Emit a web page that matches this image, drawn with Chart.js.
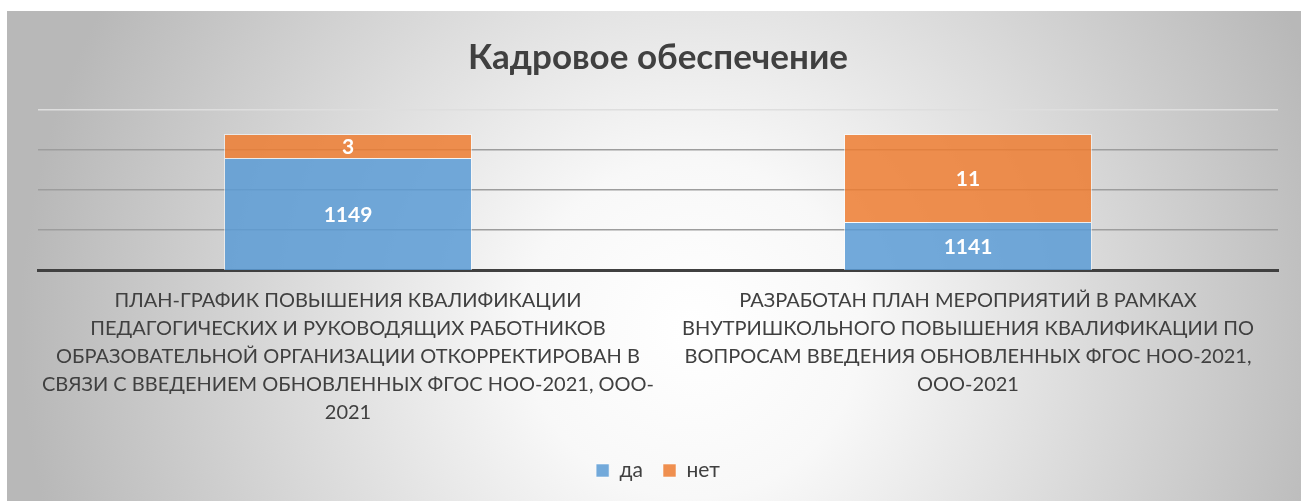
<!DOCTYPE html>
<html>
<head>
<meta charset="utf-8">
<script src="https://cdn.jsdelivr.net/npm/chart.js@4.4.1/dist/chart.umd.min.js"></script>
<style>
  html, body { margin: 0; padding: 0; background: #fff; }
  #wrap { position: absolute; left: 7px; top: 11px; width: 1294px; height: 490px; }
</style>
</head>
<body>
<div id="wrap"><canvas id="chart"></canvas></div>
<script>
const categories = [
  ["ПЛАН-ГРАФИК ПОВЫШЕНИЯ КВАЛИФИКАЦИИ", "ПЕДАГОГИЧЕСКИХ И РУКОВОДЯЩИХ РАБОТНИКОВ",
   "ОБРАЗОВАТЕЛЬНОЙ ОРГАНИЗАЦИИ ОТКОРРЕКТИРОВАН В", "СВЯЗИ С ВВЕДЕНИЕМ ОБНОВЛЕННЫХ ФГОС НОО-2021, ООО-", "2021"],
  ["РАЗРАБОТАН ПЛАН МЕРОПРИЯТИЙ В РАМКАХ", "ВНУТРИШКОЛЬНОГО ПОВЫШЕНИЯ КВАЛИФИКАЦИИ ПО",
   "ВОПРОСАМ ВВЕДЕНИЯ ОБНОВЛЕННЫХ ФГОС НОО-2021,", "ООО-2021"]
]
const yesValues = [1149, 1141]
const noValues = [3, 11]
const axisMin = 1135
const axisMax = 1155

const FONT = "Lato, 'Open Sans', sans-serif"

// soft radial backdrop like the office chart style
const backdrop = {
  id: "backdrop",
  beforeDraw(chart) {
    const { ctx, width, height } = chart
    const g = ctx.createRadialGradient(width * 0.53, height * 0.65, 0, width * 0.53, height * 0.65, width * 0.52)
    g.addColorStop(0, "#ffffff")
    g.addColorStop(0.25, "#f8f8f8")
    g.addColorStop(1, "#b8b8b8")
    ctx.save()
    ctx.fillStyle = g
    ctx.fillRect(0, 0, width, height)
    ctx.restore()
  },
}

// value labels centred in the visible part of each segment
const valueLabels = {
  id: "valueLabels",
  afterDatasetsDraw(chart) {
    const { ctx, chartArea } = chart
    ctx.save()
    ctx.fillStyle = "#ffffff"
    ctx.font = "bold 21px " + FONT
    ctx.textAlign = "center"
    ctx.textBaseline = "middle"
    chart.data.datasets.forEach((ds, i) => {
      chart.getDatasetMeta(i).data.forEach((bar, j) => {
        const top = Math.max(bar.y, chartArea.top)
        const bottom = Math.min(bar.base, chartArea.bottom)
        ctx.fillText(String(ds.data[j]), bar.x, (top + bottom) / 2 + 1)
      })
    })
    ctx.restore()
  },
}

new Chart(document.getElementById("chart"), {
  type: "bar",
  data: {
    labels: categories,
    datasets: [
      {
        label: "да",
        data: yesValues,
        backgroundColor: "rgba(91,155,213,0.85)",
        borderColor: "rgba(255,255,255,0.55)",
        borderWidth: 1,
      },
      {
        label: "нет",
        data: noValues,
        backgroundColor: "rgba(237,125,49,0.85)",
        borderColor: "rgba(255,255,255,0.55)",
        borderWidth: 1,
      },
    ],
  },
  options: {
    responsive: true,
    maintainAspectRatio: false,
    animation: false,
    layout: { padding: { left: 31, right: 23, top: 0, bottom: 10 } },
    datasets: { bar: { barPercentage: 0.4, categoryPercentage: 1 } },
    scales: {
      x: {
        stacked: true,
        grid: { display: false, drawTicks: false },
        border: { color: "#404040", width: 3 },
        ticks: {
          color: "#404040",
          font: { family: FONT, size: 20, lineHeight: 1.4 },
          padding: 17,
          maxRotation: 0,
          autoSkip: false,
        },
        afterFit(scale) { scale.height -= 4 },
      },
      y: {
        stacked: true,
        min: axisMin,
        max: axisMax,
        ticks: { display: false, stepSize: 5 },
        border: { display: false },
        grid: {
          drawTicks: false,
          lineWidth: 1.5,
          color: (c) => (c.tick && c.tick.value === axisMax ? "#dedede" : "#9d9d9d"),
        },
        afterFit(scale) { scale.width = 0 },
      },
    },
    plugins: {
      title: {
        display: true,
        text: "Кадровое обеспечение",
        color: "#404040",
        font: { family: FONT, size: 35, weight: "bold" },
        padding: { top: 26, bottom: 31 },
      },
      legend: {
        position: "bottom",
        labels: {
          color: "#404040",
          font: { family: FONT, size: 21 },
          boxWidth: 13,
          boxHeight: 13,
          padding: 20,
        },
      },
      tooltip: { enabled: false },
    },
  },
  plugins: [backdrop, valueLabels],
})
</script>
</body>
</html>
